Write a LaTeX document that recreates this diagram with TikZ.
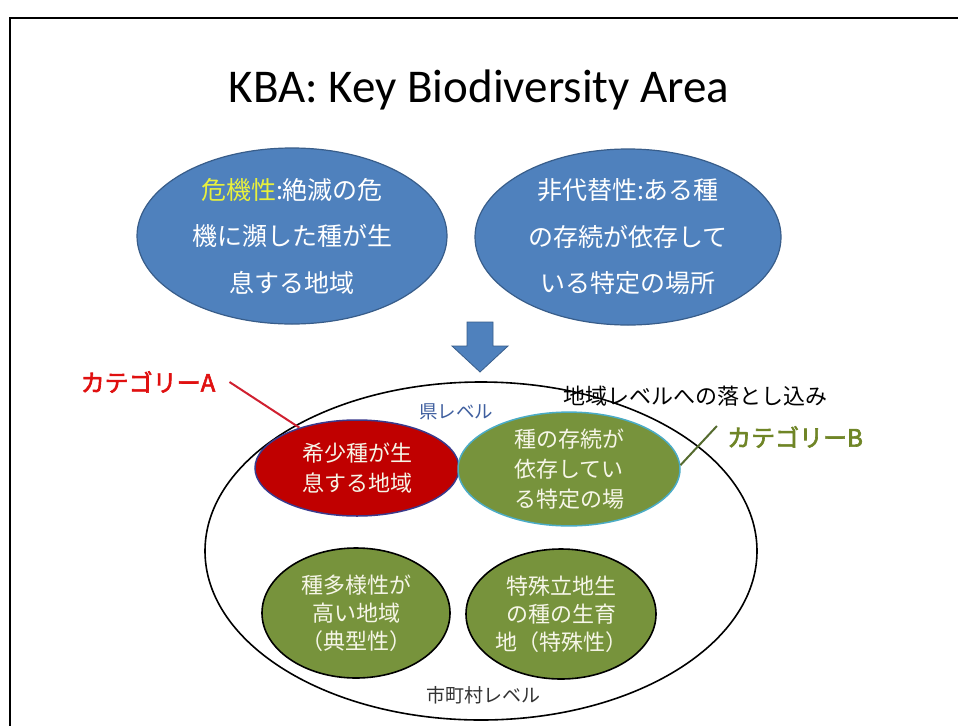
\documentclass[tikz,border=0pt]{standalone}
\usepackage{fontspec}
\setmainfont{Carlito}
\newfontfamily\jp{Noto Sans CJK JP}
\newfontfamily\jpb[FakeBold=2.5]{Noto Sans CJK JP}
\usetikzlibrary{shapes.geometric}
\definecolor{blueF}{HTML}{4F81BD}
\definecolor{blueD}{HTML}{385D8A}
\definecolor{redF}{HTML}{C00000}
\definecolor{redB}{HTML}{3A3A8C}
\definecolor{greenF}{HTML}{77933C}
\definecolor{tealB}{HTML}{4BACC6}
\definecolor{yel}{HTML}{E8F03C}
\definecolor{cream}{HTML}{F6F6E8}
\definecolor{kenC}{HTML}{3F5F9F}
\definecolor{catA}{HTML}{E01010}
\definecolor{catB}{HTML}{6F8526}
\definecolor{lineA}{HTML}{D02030}
\definecolor{lineB}{HTML}{556B2F}
\tikzset{
  blueell/.style={ellipse, fill=blueF, draw=blueD, line width=1.2pt, inner sep=0pt, align=center, text=white,
    font=\jp\fontsize{25}{46.5}\selectfont},
  smallell/.style={ellipse, inner sep=0pt, align=center, text=cream},
  lbl/.style={inner sep=0pt, font=\jp\fontsize{19}{22}\selectfont},
  catlbl/.style={inner sep=0pt, font=\jpb\fontsize{24}{28}\selectfont}
}
\begin{document}
\begin{tikzpicture}[x=1pt,y=-1pt]
\useasboundingbox (0,0) rectangle (958,726);
\fill[white] (0,0) rectangle (958,726);
\draw[line width=1.5pt] (958,18) -- (10,18) -- (10,726);

\node[anchor=base, inner sep=0pt, font=\fontsize{47}{56}\selectfont] (title) at (479,102) {KBA: Key Biodiversity Area};

\node[blueell, minimum width=310pt, minimum height=176pt] (crit) at (292,236)
  {{\color{yel}危機性}:絶滅の危\\機に瀕した種が生\\息する地域};
\node[blueell, minimum width=306pt, minimum height=176pt] (irr) at (628,237)
  {非代替性:ある種\\の存続が依存して\\いる特定の場所};

\fill[blueF, draw=blueD, line width=0.8pt] (467,322) -- (493,322) -- (493,346) -- (508,346) -- (480,372) -- (452,346) -- (467,346) -- cycle;

\node[lbl, font=\jp\fontsize{22}{26}\selectfont] (drop) at (695,396) {地域レベルへの落とし込み};

\node[ellipse, draw=black, line width=1.6pt, minimum width=552pt, minimum height=338pt, inner sep=0pt] (region) at (481,551) {};

\node[lbl, text=kenC, font=\jp\fontsize{18.5}{22}\selectfont] (ken) at (456,412) {県レベル};
\node[lbl, text=black!80] (city) at (483,695) {市町村レベル};

\node[smallell, fill=redF, draw=redB, line width=1.5pt, minimum width=204pt, minimum height=96pt,
  font=\jp\fontsize{22}{30}\selectfont] (rare) at (357,468) {希少種が生\\息する地域};
\node[smallell, fill=greenF, draw=tealB, line width=1.5pt, minimum width=222pt, minimum height=106pt,
  font=\jp\fontsize{22}{30}\selectfont] (persist) at (569,469) {種の存続が\\依存してい\\る特定の場};
\node[smallell, fill=greenF, draw=black, line width=1.6pt, minimum width=188pt, minimum height=130pt,
  font=\jp\fontsize{22}{28}\selectfont] (div) at (356,613) {種多様性が\\高い地域\\（典型性）};
\node[smallell, fill=greenF, draw=black, line width=1.6pt, minimum width=190pt, minimum height=130pt,
  font=\jp\fontsize{22}{28}\selectfont] (spec) at (561,614) {特殊立地生\\の種の生育\\地（特殊性）};

\node[catlbl, text=catA] (ca) at (148,382) {カテゴリーA};
\node[catlbl, text=catB] (cb) at (795,437) {カテゴリーB};
\draw[lineA, line width=2pt] ([xshift=14pt]ca.east) -- (rare.145);
\draw[lineB, line width=2pt] ([shift={(-10,-11)}]cb.west) -- (persist.2);
\end{tikzpicture}
\end{document}
